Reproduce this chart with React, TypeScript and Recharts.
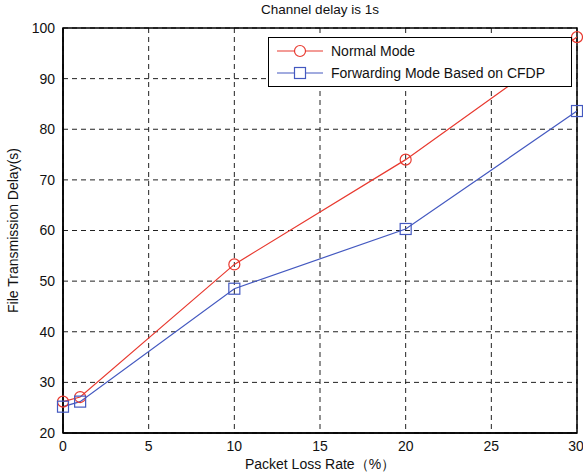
import React from 'react'
import { LineChart, Line, XAxis, YAxis, CartesianGrid, ReferenceArea } from 'recharts'

const lossRate = [0, 1, 10, 20, 30]
const normalMode = [26.2, 27.1, 53.3, 74.0, 98.2]
const cfdpMode = [25.2, 26.2, 48.5, 60.3, 83.6]
const xTicks = [0, 5, 10, 15, 20, 25, 30]
const yTicks = [20, 30, 40, 50, 60, 70, 80, 90, 100]

const RED = '#e8392f'
const BLUE = '#4459c0'

const data = lossRate.map((x, i) => ({ x, normal: normalMode[i], cfdp: cfdpMode[i] }))

const SquareDot = (props: any) => {
  const { cx, cy } = props
  if (cx == null || cy == null) return null
  return <rect x={cx - 5.5} y={cy - 5.5} width={11} height={11} fill="none" stroke={BLUE} strokeWidth={1.2} />
}

const CircleDot = (props: any) => {
  const { cx, cy } = props
  if (cx == null || cy == null) return null
  return <circle cx={cx} cy={cy} r={5.5} fill="none" stroke={RED} strokeWidth={1.2} />
}

const LegendBox = () => (
  <div
    style={{
      position: 'absolute',
      left: 268,
      top: 37,
      border: '1.5px solid #000',
      background: '#fff',
      width: 304,
      height: 50,
      boxSizing: 'border-box',
      fontFamily: 'Liberation Sans, Arial, sans-serif',
      fontSize: 14,
      color: '#111',
      padding: '2px 0 0 8px',
    }}
  >
    <div style={{ display: 'flex', alignItems: 'center', height: 22 }}>
      <svg width={48} height={14}>
        <line x1={0} y1={7} x2={46} y2={7} stroke={RED} strokeWidth={1.2} />
        <circle cx={23} cy={7} r={5.5} fill="#fff" stroke={RED} strokeWidth={1.2} />
      </svg>
      <span style={{ marginLeft: 6 }}>Normal Mode</span>
    </div>
    <div style={{ display: 'flex', alignItems: 'center', height: 22 }}>
      <svg width={48} height={14}>
        <line x1={0} y1={7} x2={46} y2={7} stroke={BLUE} strokeWidth={1.2} />
        <rect x={17.5} y={1.5} width={11} height={11} fill="#fff" stroke={BLUE} strokeWidth={1.2} />
      </svg>
      <span style={{ marginLeft: 6 }}>Forwarding Mode Based on CFDP</span>
    </div>
  </div>
)

export default function App() {
  const font = 'Liberation Sans, Arial, sans-serif'
  return (
    <div style={{ position: 'absolute', left: 0, top: 0, width: 583, height: 476, background: '#fff' }}>
      <div
        style={{
          position: 'absolute',
          top: 2,
          left: 0,
          width: 640,
          textAlign: 'center',
          fontFamily: font,
          fontSize: 13.5,
          color: '#111',
        }}
      >
        Channel delay is 1s
      </div>
      <LineChart
        width={583}
        height={476}
        data={data}
        margin={{ top: 28, right: 6, left: 23, bottom: 13 }}
      >
        <CartesianGrid stroke="#222" strokeDasharray="5 4" strokeWidth={1} />
        <XAxis
          dataKey="x"
          type="number"
          domain={[0, 30]}
          ticks={xTicks}
          tickLine={false}
          axisLine={{ stroke: '#000', strokeWidth: 1.5 }}
          tick={{ fill: '#111', fontSize: 14, fontFamily: font }}
          height={30}
          label={{ value: 'Packet Loss Rate（%）', position: 'insideBottom', offset: -6, fill: '#111', fontSize: 14, fontFamily: font }}
        />
        <YAxis
          type="number"
          domain={[20, 100]}
          ticks={yTicks}
          tickLine={false}
          axisLine={{ stroke: '#000', strokeWidth: 1.5 }}
          tick={{ fill: '#111', fontSize: 14, fontFamily: font }}
          width={40}
          label={{ value: 'File Transmission Delay(s)', angle: -90, position: 'insideLeft', offset: -10, fill: '#111', fontSize: 14, fontFamily: font, style: { textAnchor: 'middle' } }}
        />
        <ReferenceArea x1={0} x2={30} y1={20} y2={100} fill="none" stroke="#000" strokeWidth={1.5} />
        <Line
          dataKey="normal"
          stroke={RED}
          strokeWidth={1.2}
          dot={<CircleDot />}
          isAnimationActive={false}
        />
        <Line
          dataKey="cfdp"
          stroke={BLUE}
          strokeWidth={1.2}
          dot={<SquareDot />}
          isAnimationActive={false}
        />
      </LineChart>
      <LegendBox />
    </div>
  )
}
